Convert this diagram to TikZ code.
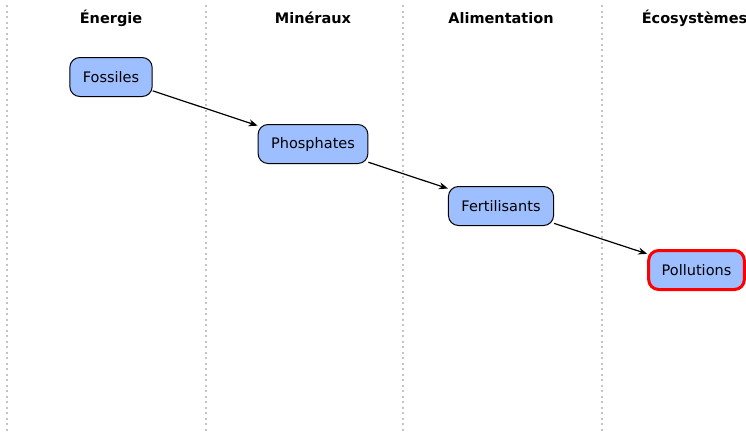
\documentclass[tikz,border=0pt]{standalone}
\usepackage{fontspec}
\setmainfont{DejaVu Sans}
\usetikzlibrary{arrows.meta}
\definecolor{boxfill}{HTML}{9DBEFF}
\definecolor{divgray}{HTML}{C4C4C4}
\tikzset{
  stage/.style={draw=black, line width=1pt, fill=boxfill, rounded corners=10pt,
    inner xsep=13pt, minimum height=39pt, font=\fontsize{14.5}{17}\selectfont},
  hot/.style={stage, draw=red, line width=3pt},
  header/.style={font=\fontsize{14.5}{17}\selectfont\bfseries},
  divider/.style={draw=divgray, line width=2pt, dash pattern=on 2pt off 3.5pt},
  flow/.style={draw=black, line width=1.2pt, -{Stealth[length=9pt,width=7pt]}}
}
\begin{document}
\begin{tikzpicture}[x=1pt,y=-1pt]
\useasboundingbox (0,0) rectangle (746,431);
\fill[white] (0,0) rectangle (746,431);
% dividers
\foreach \x/\n in {7/a,206/b,403/c,602/d}{
  \coordinate (top\n) at (\x,5);
  \coordinate (bot\n) at (\x,431);
  \draw[divider] (top\n) -- (bot\n);
}
% headers
\node[header] (h1) at (111,18) {Énergie};
\node[header] (h2) at (313,18) {Minéraux};
\node[header] (h3) at (501,18) {Alimentation};
\node[header] (h4) at (694.5,18) {Écosystèmes};
% nodes
\node[stage] (fos) at (111,77) {Fossiles};
\node[stage] (pho) at (313,144) {Phosphates};
\node[stage] (fer) at (501,206) {Fertilisants};
\node[hot] (pol) at (696.5,270) {Pollutions};
% arrows
\draw[flow] (fos) -- (pho);
\draw[flow] (pho) -- (fer);
\draw[flow] (fer) -- (pol);
\end{tikzpicture}
\end{document}
